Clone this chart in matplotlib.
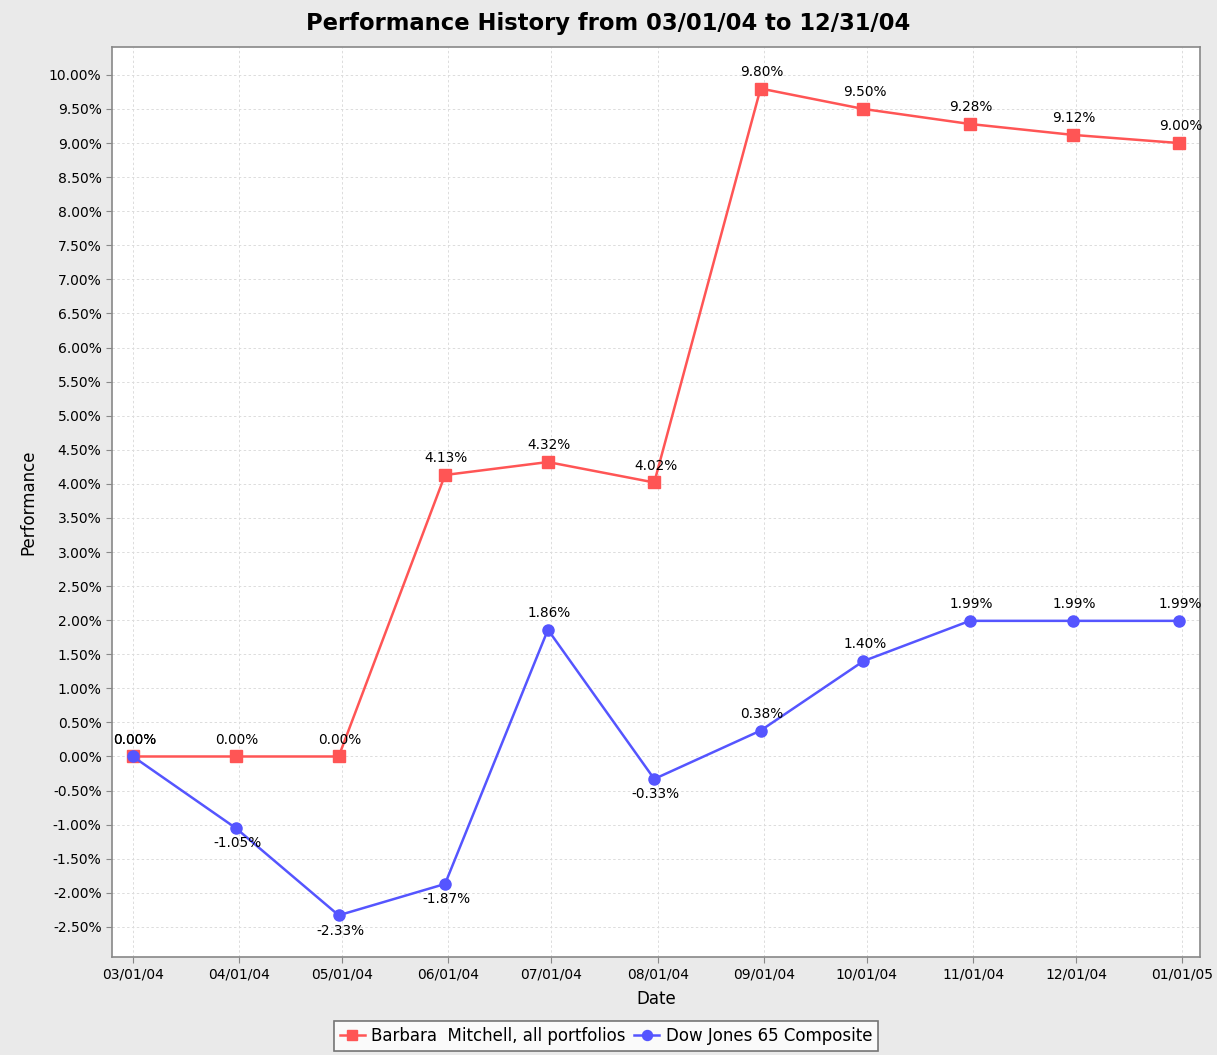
import matplotlib
matplotlib.use("Agg")
import matplotlib.pyplot as plt
import matplotlib.dates as mdates
from matplotlib.ticker import MultipleLocator, FuncFormatter
from datetime import datetime, timedelta

dates = ["03/01/04", "03/31/04", "04/30/04", "05/31/04", "06/30/04", "07/31/04",
         "08/31/04", "09/30/04", "10/31/04", "11/30/04", "12/31/04"]
barbara = [0.00, 0.00, 0.00, 4.13, 4.32, 4.02, 9.80, 9.50, 9.28, 9.12, 9.00]
dow = [0.00, -1.05, -2.33, -1.87, 1.86, -0.33, 0.38, 1.40, 1.99, 1.99, 1.99]
tick_dates = ["03/01/04", "04/01/04", "05/01/04", "06/01/04", "07/01/04", "08/01/04",
              "09/01/04", "10/01/04", "11/01/04", "12/01/04", "01/01/05"]

x = [datetime.strptime(d, "%m/%d/%y") for d in dates]
ticks = [datetime.strptime(d, "%m/%d/%y") for d in tick_dates]

plt.rcParams['font.family'] = ['DejaVu Sans']

fig = plt.figure(figsize=(12.17, 10.55), dpi=100, facecolor='#eaeaea')
ax = fig.add_axes([0.092, 0.093, 0.894, 0.8625])
ax.set_facecolor('white')

red = '#ff5555'
blue = '#5555ff'
ax.plot(x, barbara, color=red, lw=1.8, marker='s', ms=8, label='Barbara  Mitchell, all portfolios', zorder=3)
ax.plot(x, dow, color=blue, lw=1.8, marker='o', ms=8, label='Dow Jones 65 Composite', zorder=3)

for xs, ys in [(x, barbara), (x, dow)]:
    for xi, yi in zip(xs, ys):
        if yi >= 0:
            ax.annotate(f"{yi:.2f}%", (xi, yi), xytext=(1, 7), textcoords='offset points',
                        ha='center', va='bottom', fontsize=9.8, zorder=4)
        else:
            ax.annotate(f"{yi:.2f}%", (xi, yi), xytext=(1, -6), textcoords='offset points',
                        ha='center', va='top', fontsize=9.8, zorder=4)

pad = timedelta(days=6.1)
ax.set_xlim(x[0] - pad, x[-1] + pad)
ax.set_ylim(-2.94, 10.41)
ax.set_xticks(ticks)
ax.xaxis.set_major_formatter(mdates.DateFormatter("%m/%d/%y"))
ax.yaxis.set_major_locator(MultipleLocator(0.5))
ax.yaxis.set_major_formatter(FuncFormatter(lambda v, p: f"{v:.2f}%"))
ax.tick_params(labelsize=10, color='#888888', length=4)

ax.grid(True, color='#dcdcdc', linestyle=(0, (2.5, 2.5)), lw=0.7)
for s in ax.spines.values():
    s.set_color('#888888')
    s.set_linewidth(1.2)

ax.set_xlabel("Date", fontsize=12, labelpad=6)
ax.set_ylabel("Performance", fontsize=12, labelpad=8)
fig.suptitle("Performance History from 03/01/04 to 12/31/04", fontsize=16.3,
             fontweight='bold', y=0.989, va='top')

leg = fig.legend(loc='lower center', bbox_to_anchor=(0.498, -0.004), ncol=2, fontsize=12,
                 frameon=True, fancybox=False, edgecolor='#555555', handlelength=1.5,
                 handletextpad=0.4, columnspacing=0.5, borderpad=0.35, markerscale=0.9)
leg.get_frame().set_linewidth(1.2)

fig.savefig("out.png", dpi=100, facecolor=fig.get_facecolor())
